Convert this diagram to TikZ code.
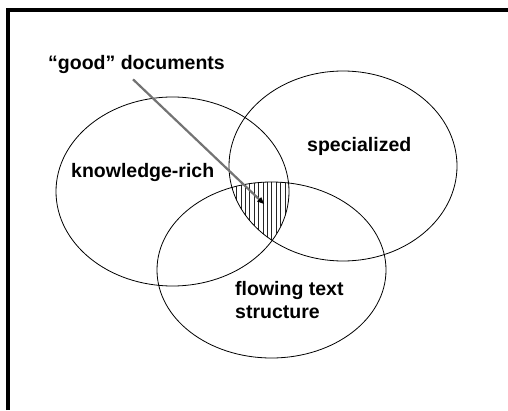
\documentclass[tikz,border=0pt]{standalone}
\usepackage{fontspec}
\setmainfont{Liberation Sans}
\usepackage{tikz}
\usetikzlibrary{arrows.meta}
\tikzstyle{setlabel}=[inner sep=0pt, font=\fontsize{19.5}{23}\selectfont\bfseries, anchor=base west]
\tikzstyle{setline}=[line width=0.8pt]
\tikzstyle{pointer}=[line width=2.2pt, draw=black!55, -{Triangle[length=7pt,width=5.5pt,color=black]}, shorten >=-3pt]
\newcommand{\setlabel}{\node[setlabel]}

\begin{document}
\begin{tikzpicture}[x=1pt,y=1pt]
	\useasboundingbox (0,0) rectangle (508,410);
	%% the frame
	\draw[line width=4pt] (8,0) -- (8,400) -- (510,400);
	%% the centres of the sets
	\coordinate (K) at (172.5,218.5);
	\coordinate (S) at (343,244);
	\coordinate (F) at (271.5,140);
	%% hatching for the common part
	\begin{scope}
		\clip (K) ellipse (116.5 and 94.5);
		\clip (S) ellipse (114 and 95);
		\clip (F) ellipse (114.5 and 88);
		\foreach \x in {0,...,14}
			\draw[line width=0.6pt, black!85] (232+4.4*\x,160) -- (232+4.4*\x,240);
	\end{scope}
	%% the sets
	\draw[setline] (K) ellipse (116.5 and 94.5);
	\draw[setline] (S) ellipse (114 and 95);
	\draw[setline] (F) ellipse (114.5 and 88);
	%% the labels
	\setlabel (good) at (48,340) {“good” documents};
	\setlabel (know) at (71,233) {knowledge-rich};
	\setlabel (spec) at (307,258) {specialized};
	\setlabel[align=left, anchor=north west] (flow) at (235,128.5) {flowing text\\structure};
	%% the pointer
	\coordinate (tip) at (262,208);
	\draw[pointer] ([xshift=-3.5pt,yshift=-5pt]good.south) -- (tip);
\end{tikzpicture}
\end{document}
